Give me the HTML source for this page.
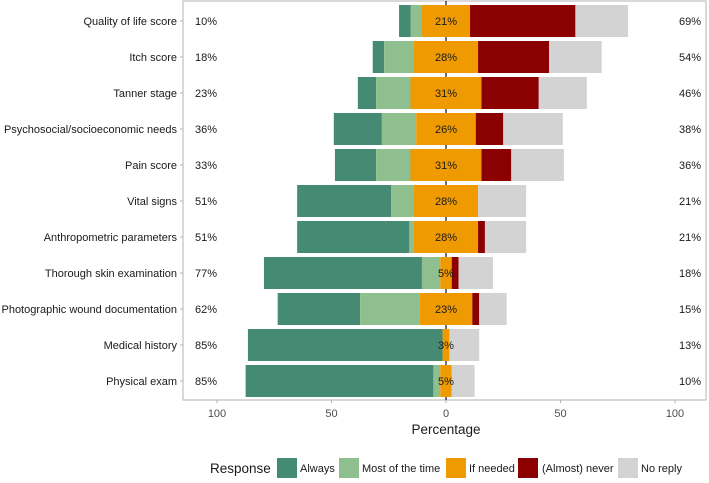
<!DOCTYPE html>
<html><head><meta charset="utf-8">
<style>
body{margin:0;background:#fff;width:709px;height:478px;overflow:hidden;font-family:"Liberation Sans",sans-serif;}
svg text{font-family:"Liberation Sans",sans-serif;}
</style></head>
<body>
<svg id="chart" width="709" height="478" xmlns="http://www.w3.org/2000/svg"></svg>
<script>
const categories=["Quality of life score","Itch score","Tanner stage","Psychosocial/socioeconomic needs","Pain score","Vital signs","Anthropometric parameters","Thorough skin examination","Photographic wound documentation","Medical history","Physical exam"];
const always=[5,5,8,21,18,41,49,69,36,85,82];
const mostly=[5,13,15,15,15,10,2,8,26,0,3];
const ifNeeded=[21,28,31,26,31,28,28,5,23,3,5];
const never=[46,31,25,12,13,0,3,3,3,0,0];
const noReply=[23,23,21,26,23,21,18,15,12,13,10];
const xTicks=[-100,-50,0,50,100];
const seriesNames=["Always","Most of the time","If needed","(Almost) never","No reply"];
const colors=["#458b73","#8fbf8f","#ee9a00","#8b0000","#d3d3d3"];

const svg=document.getElementById('chart');
const NS='http://www.w3.org/2000/svg';
const x0=446,scale=2.29,plotL=183,plotR=706,plotT=1,plotB=400,rowTop=21,pitch=36,barH=32;
const X=v=>x0+v*scale;
const Y=i=>rowTop+i*pitch;
function mk(tag,attrs,parent){const e=document.createElementNS(NS,tag);for(const k in attrs)e.setAttribute(k,attrs[k]);(parent||svg).appendChild(e);return e;}

const panel=mk('rect',{x:plotL,y:plotT,width:plotR-plotL,height:plotB-plotT,fill:'#fff',stroke:'#b3b3b3','stroke-width':1});


const zl=mk('line',{x1:x0,x2:x0,y1:plotT,y2:plotB,stroke:'#222','stroke-width':1.3});



categories.forEach((c,i)=>{
  const y=Y(i);
  const half=ifNeeded[i]/2;
  const segs=[
    [-half-mostly[i]-always[i],always[i]],
    [-half-mostly[i],mostly[i]],
    [-half,ifNeeded[i]],
    [half,never[i]],
    [half+never[i],noReply[i]]
  ];
  segs.forEach((s,k)=>{
    if(s[1]<=0)return;
    const r=mk('rect',{x:X(s[0]),y:y-barH/2,width:s[1]*scale,height:barH,fill:colors[k]});
    
    
  });
  const tm=mk('line',{x1:180,x2:183,y1:y,y2:y,stroke:'#b3b3b3','stroke-width':1});
  
  
  const lab=mk('text',{x:177,y:y+4,'text-anchor':'end','font-size':11,fill:'#1a1a1a'});lab.textContent=c;
  
  
  const lp=mk('text',{x:195,y:y+4,'font-size':11,fill:'#1a1a1a'});lp.textContent=(always[i]+mostly[i])+'%';
  
  
  const cp=mk('text',{x:x0,y:y+4,'text-anchor':'middle','font-size':11,fill:'#1a1a1a'});cp.textContent=ifNeeded[i]+'%';
  
  
  const rp=mk('text',{x:701,y:y+4,'text-anchor':'end','font-size':11,fill:'#1a1a1a'});rp.textContent=(never[i]+noReply[i])+'%';
  
  
});
xTicks.forEach(t=>{
  const tm=mk('line',{x1:X(t),x2:X(t),y1:plotB,y2:plotB+3,stroke:'#b3b3b3','stroke-width':1});
  
  
  const tk=mk('text',{x:X(t),y:417,'text-anchor':'middle','font-size':11,fill:'#4d4d4d'});tk.textContent=Math.abs(t);
  
  
});
const xt=mk('text',{x:x0,y:434,'text-anchor':'middle','font-size':13.5,fill:'#1a1a1a'});xt.textContent='Percentage';



const lt=mk('text',{x:210,y:473,'font-size':13.5,fill:'#1a1a1a'});lt.textContent='Response';


const keyX=[277,339,446,518,618],txtX=[300,362,469,542,641];
seriesNames.forEach((n,k)=>{
  const kr=mk('rect',{x:keyX[k],y:458,width:20,height:20,fill:colors[k]});
  
  
  const kt=mk('text',{x:txtX[k],y:472,'font-size':11,fill:'#1a1a1a'});kt.textContent=n;
  
  
});
</script>
</body></html>
